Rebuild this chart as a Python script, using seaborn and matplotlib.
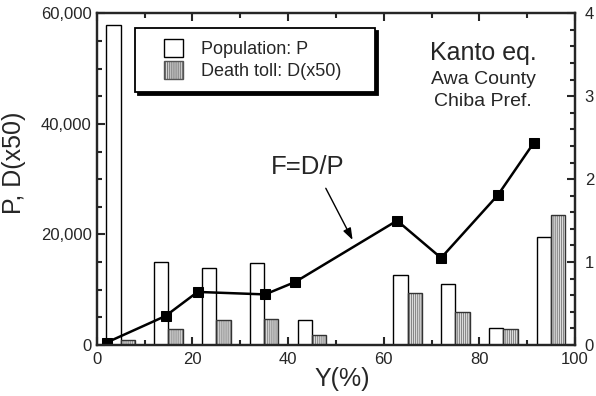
import matplotlib
matplotlib.use("Agg")
import matplotlib.pyplot as plt
import seaborn as sns
import pandas as pd
from matplotlib.patches import Patch, Rectangle
from matplotlib.legend_handler import HandlerPatch
from matplotlib.ticker import MultipleLocator, FuncFormatter

# ---- data ----
bin_centers = [5, 15, 25, 35, 45, 65, 75, 85, 95]
population = [57900, 15100, 13900, 14800, 4500, 12700, 11000, 3000, 19600]
death_x50 = [900, 2850, 4500, 4650, 1750, 9350, 5950, 2850, 23450]
f_x = [2.1, 14.4, 21.1, 35.2, 41.5, 62.8, 72.0, 83.9, 91.4]
f_ratio = [0.03, 0.35, 0.64, 0.61, 0.76, 1.50, 1.05, 1.81, 2.44]
series_labels = ["Population: P", "Death toll: D(x50)"]
left_ticks = [0, 20000, 40000, 60000]
right_ticks = [0, 1, 2, 3, 4]
x_ticks = [0, 20, 40, 60, 80, 100]

sns.set_style("ticks")
plt.rcParams["font.family"] = ["Liberation Sans", "DejaVu Sans"]
plt.rcParams["hatch.linewidth"] = 0.6

df = pd.DataFrame({
    "Y": bin_centers + bin_centers,
    "value": population + death_x50,
    "series": [series_labels[0]] * len(bin_centers) + [series_labels[1]] * len(bin_centers),
})

fig = plt.figure(figsize=(5.96, 3.96), dpi=100)
ax = fig.add_axes([0.1622, 0.1288, 0.8026, 0.8376])

sns.barplot(data=df, x="Y", y="value", hue="series", hue_order=series_labels,
            native_scale=True, dodge=True, width=0.6, ax=ax, legend=False,
            palette=["white", "#dcdcdc"], saturation=1, edgecolor="black",
            linewidth=1.0, err_kws={"linewidth": 0})

# style the death-toll bars: hatched gray with dark outline
for bar in ax.containers[1]:
    bar.set_hatch("|" * 8)
    bar.set_edgecolor("#757575")
    bar.set_linewidth(0)
    x0, y0 = bar.get_xy()
    ax.add_patch(Rectangle((x0, y0), bar.get_width(), bar.get_height(),
                           fill=False, edgecolor="#333333", linewidth=1.0, zorder=bar.get_zorder() + 0.1))

ax.set_xlim(0, 100)
ax.set_ylim(0, 60000)
ax.set_xticks(x_ticks)
ax.xaxis.set_minor_locator(MultipleLocator(10))
ax.set_yticks(left_ticks)
ax.yaxis.set_minor_locator(MultipleLocator(5000))
ax.yaxis.set_major_formatter(FuncFormatter(lambda v, p: f"{int(v):,}"))
ax.tick_params(which="both", direction="in", top=True, right=False, width=1.5, labelsize=12)
ax.tick_params(which="major", length=6)
ax.tick_params(which="minor", length=3.5)
ax.tick_params(axis="x", pad=5)
ax.tick_params(axis="y", pad=3.5)
for s in ax.spines.values():
    s.set_linewidth(1.6)

ax.set_xlabel("Y(%)", fontsize=18)
ax.xaxis.set_label_coords(0.513, -0.065)
ax.set_ylabel("P, D(x50)", fontsize=18)
ax.yaxis.set_label_coords(-0.148, 0.55)


def square_patch(legend, orig_handle, xdescent, ydescent, width, height, fontsize):
    side = fontsize * 1.02
    return Rectangle((-xdescent + width - side, -ydescent + (height - side) / 2), side, side)


handles = [Patch(facecolor="white", edgecolor="black", linewidth=1.0),
           Patch(facecolor="#dcdcdc", edgecolor="#555555", hatch="|" * 8, linewidth=1.0)]
hmap = {h: HandlerPatch(patch_func=square_patch) for h in handles}
leg = ax.legend(handles, series_labels, handler_map=hmap, loc="upper left",
                bbox_to_anchor=(0.08, 0.77, 0.502, 0.186),
                mode="expand", borderaxespad=0, fontsize=13, frameon=True, fancybox=False,
                shadow={"color": "black", "alpha": 1}, edgecolor="black", framealpha=1,
                handlelength=2.0, handleheight=1.0, handletextpad=1.0, labelspacing=0.22,
                borderpad=0.65)
leg.get_frame().set_linewidth(1.3)

ax2 = ax.twinx()
sns.lineplot(x=f_x, y=f_ratio, ax=ax2, color="black", marker="s", markersize=7.5,
             linewidth=1.8, markeredgecolor="black")
ax2.set_ylim(0, 4)
ax2.set_yticks(right_ticks)
ax2.yaxis.set_minor_locator(MultipleLocator(0.2))
ax2.tick_params(which="both", direction="in", width=1.5, labelsize=12, pad=7)
ax2.tick_params(which="major", length=6)
ax2.tick_params(which="minor", length=3.5)
for s in ax2.spines.values():
    s.set_linewidth(1.6)

ax2.text(44.2, 2.147, "F=D/P", fontsize=18.5, ha="center", va="center")
ax2.annotate("", xy=(53.5, 1.267), xytext=(47.9, 1.89),
             arrowprops=dict(arrowstyle="-|>,head_length=0.7,head_width=0.25", color="black", lw=1.0,
                             shrinkA=0, shrinkB=0))

ax2.text(80.8, 3.522, "Kanto eq.", fontsize=18, ha="center", va="center")
ax2.text(80.8, 3.197, "Awa County", fontsize=14, ha="center", va="center")
ax2.text(80.8, 2.935, "Chiba Pref.", fontsize=14, ha="center", va="center")

fig.savefig("out.png", dpi=100)
